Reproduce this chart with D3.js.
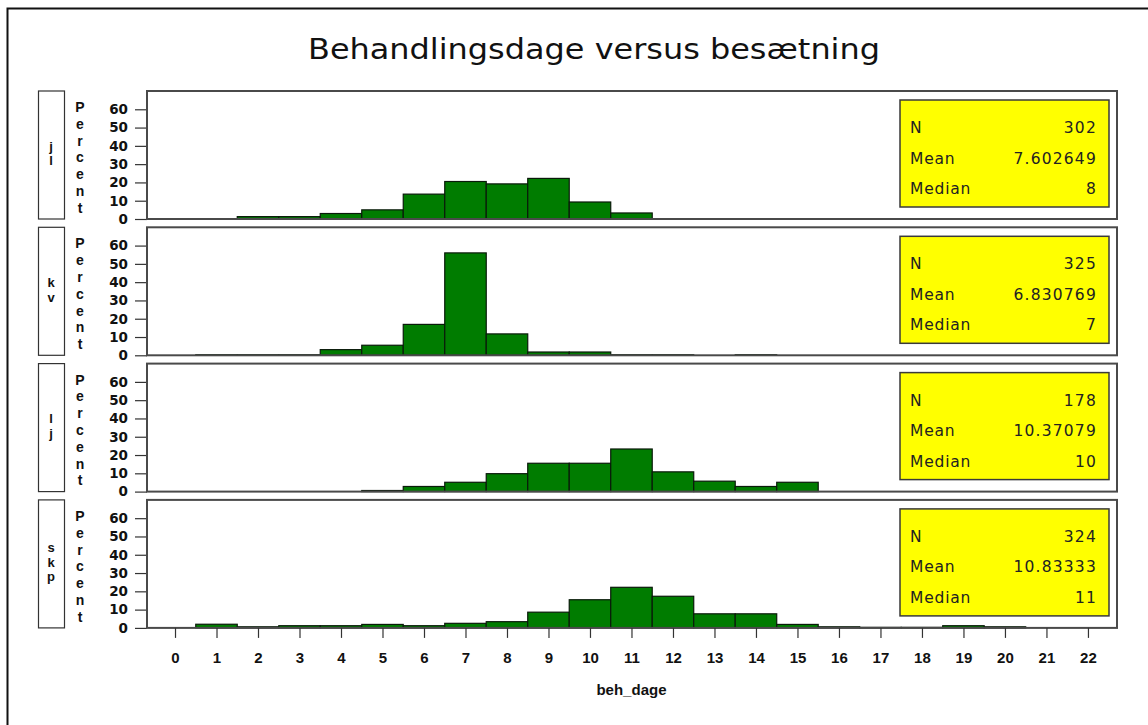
<!DOCTYPE html>
<html>
<head>
<meta charset="utf-8">
<script src="https://cdn.jsdelivr.net/npm/d3@7"></script>
<style>
  html, body { margin: 0; padding: 0; background: #fff; }
  svg { display: block; }
</style>
</head>
<body>
<svg id="chart" width="1148" height="725"></svg>
<script>
// Histograms of treatment days (beh_dage) per herd, percent of animals per day
const groups = ["jl", "kv", "lj", "skp"];
const days = d3.range(0, 23);   // x tick values 0..22
const yTicks = [0, 10, 20, 30, 40, 50, 60];

const binsJl  = [2, 3, 4, 5, 6, 7, 8, 9, 10, 11];
const pctJl   = [1.3, 1.3, 3.0, 5.0, 13.6, 20.5, 19.2, 22.2, 9.3, 3.3];

const binsKv  = [1, 2, 3, 4, 5, 6, 7, 8, 9, 10, 11, 12, 14];
const pctKv   = [0.3, 0.3, 0.3, 3.1, 5.5, 16.9, 56.0, 11.7, 1.8, 1.8, 0.3, 0.3, 0.3];

const binsLj  = [5, 6, 7, 8, 9, 10, 11, 12, 13, 14, 15];
const pctLj   = [0.6, 2.8, 5.1, 9.8, 15.5, 15.5, 23.3, 10.8, 5.7, 2.8, 5.1];

const binsSkp = [1, 2, 3, 4, 5, 6, 7, 8, 9, 10, 11, 12, 13, 14, 15, 16, 17, 18, 19, 20];
const pctSkp  = [2.0, 0.6, 1.2, 1.2, 1.9, 1.2, 2.5, 3.4, 8.6, 15.4, 22.2, 17.3, 7.7, 7.7, 1.9, 0.6, 0.3, 0.3, 1.2, 0.6];

const statLabels = ["N", "Mean", "Median"];
const statN      = ["302", "325", "178", "324"];
const statMean   = ["7.602649", "6.830769", "10.37079", "10.83333"];
const statMedian = ["8", "7", "10", "11"];

const binSets = [binsJl, binsKv, binsLj, binsSkp];
const pctSets = [pctJl, pctKv, pctLj, pctSkp];

const svg = d3.select("#chart");

// outer frame
svg.append("rect")
  .attr("x", 7.5).attr("y", 8.5)
  .attr("width", 1160).attr("height", 740)
  .attr("fill", "none").attr("stroke", "#111").attr("stroke-width", 2);

// title
svg.append("text")
  .attr("x", 594).attr("y", 59)
  .attr("text-anchor", "middle")
  .attr("font-family", "DejaVu Sans")
  .attr("font-size", 29)
  .attr("fill", "#111")
  .attr("textLength", 572)
  .attr("lengthAdjust", "spacingAndGlyphs")
  .text("Behandlingsdage versus besætning");

const plotLeft = 147, plotRight = 1117;
const panelTop0 = 91, panelH = 128, panelStep = 136.3;

const x = d3.scaleLinear().domain([-0.675, 22.7]).range([plotLeft, plotRight]);

const green = "#007c00";
const frameColor = "#4a4a4a";

groups.forEach((g, i) => {
  const top = panelTop0 + i * panelStep;
  const bottom = top + panelH;
  const y = d3.scaleLinear().domain([0, 70]).range([bottom, top]);
  const panel = svg.append("g");

  // group label box
  panel.append("rect")
    .attr("x", 38.5).attr("y", top)
    .attr("width", 26).attr("height", panelH)
    .attr("fill", "none").attr("stroke", "#333").attr("stroke-width", 1.2);
  const letters = g.split("");
  const lStep = 14.5;
  const lStart = (top + bottom) / 2 - (letters.length - 1) * lStep / 2 + 3;
  panel.selectAll("text.glab").data(letters).join("text")
    .attr("class", "glab")
    .attr("x", 51).attr("y", (d, k) => lStart + k * lStep)
    .attr("text-anchor", "middle")
    .attr("font-family", "Liberation Sans").attr("font-weight", "bold")
    .attr("font-size", 13).attr("fill", "#111")
    .text(d => d);

  // vertical "Percent" label, one letter per line
  const pct = "Percent".split("");
  panel.selectAll("text.plab").data(pct).join("text")
    .attr("class", "plab")
    .attr("x", 80).attr("y", (d, k) => top + 21 + k * 16.8)
    .attr("text-anchor", "middle")
    .attr("font-family", "Liberation Sans").attr("font-weight", "bold")
    .attr("font-size", 14).attr("fill", "#111")
    .text(d => d);

  // bars
  const data = binSets[i].map((b, k) => ({ b, v: pctSets[i][k] }));
  panel.selectAll("rect.bar").data(data).join("rect")
    .attr("class", "bar")
    .attr("x", d => x(d.b - 0.5))
    .attr("width", d => x(d.b + 0.5) - x(d.b - 0.5))
    .attr("y", d => y(d.v))
    .attr("height", d => y(0) - y(d.v))
    .attr("fill", green).attr("stroke", "#0a1a0a").attr("stroke-width", 1.2);

  // y axis
  const yAxis = d3.axisLeft(y).tickValues(yTicks).tickSize(12).tickPadding(7);
  const ya = panel.append("g").attr("transform", `translate(${plotLeft},0)`).call(yAxis);
  ya.select(".domain").remove();
  ya.selectAll(".tick line").attr("stroke", "#333").attr("stroke-width", 1.2);
  ya.selectAll(".tick text")
    .attr("font-family", "DejaVu Sans").attr("font-weight", "bold")
    .attr("font-size", 13.5).attr("fill", "#111");

  // panel frame
  panel.append("rect")
    .attr("x", plotLeft).attr("y", top)
    .attr("width", plotRight - plotLeft).attr("height", panelH)
    .attr("fill", "none").attr("stroke", frameColor).attr("stroke-width", 2);

  // statistics inset
  const bx = 900, by = top + 9, bw = 209, bh = 107;
  panel.append("rect")
    .attr("x", bx).attr("y", by).attr("width", bw).attr("height", bh)
    .attr("fill", "#ffff00").attr("stroke", "#3a3a3a").attr("stroke-width", 1.5);
  const vals = [statN[i], statMean[i], statMedian[i]];
  statLabels.forEach((lab, k) => {
    const ty = top + 42 + k * 30.5;
    panel.append("text")
      .attr("x", bx + 10).attr("y", ty)
      .attr("font-family", "DejaVu Sans").attr("font-size", 15.5)
      .attr("letter-spacing", 0.8)
      .attr("fill", "#222")
      .text(lab);
    panel.append("text")
      .attr("x", bx + bw - 12).attr("y", ty)
      .attr("text-anchor", "end")
      .attr("font-family", "DejaVu Sans").attr("font-size", 15.5)
      .attr("letter-spacing", 1.2)
      .attr("fill", "#222")
      .text(vals[k]);
  });

  // x axis ticks under the last panel
  if (i === groups.length - 1) {
    const xAxis = d3.axisBottom(x).tickValues(days).tickSize(10).tickPadding(14)
      .tickFormat(d3.format("d"));
    const xa = panel.append("g").attr("transform", `translate(0,${bottom})`).call(xAxis);
    xa.select(".domain").remove();
    xa.selectAll(".tick line").attr("stroke", "#333").attr("stroke-width", 1.2);
    xa.selectAll(".tick text")
      .attr("font-family", "Liberation Sans").attr("font-weight", "bold")
      .attr("font-size", 15).attr("fill", "#111");
  }
});

// x axis title
svg.append("text")
  .attr("x", x(11)).attr("y", 695)
  .attr("text-anchor", "middle")
  .attr("font-family", "Liberation Sans").attr("font-weight", "bold")
  .attr("font-size", 15).attr("fill", "#111")
  .text("beh_dage");
</script>
</body>
</html>
